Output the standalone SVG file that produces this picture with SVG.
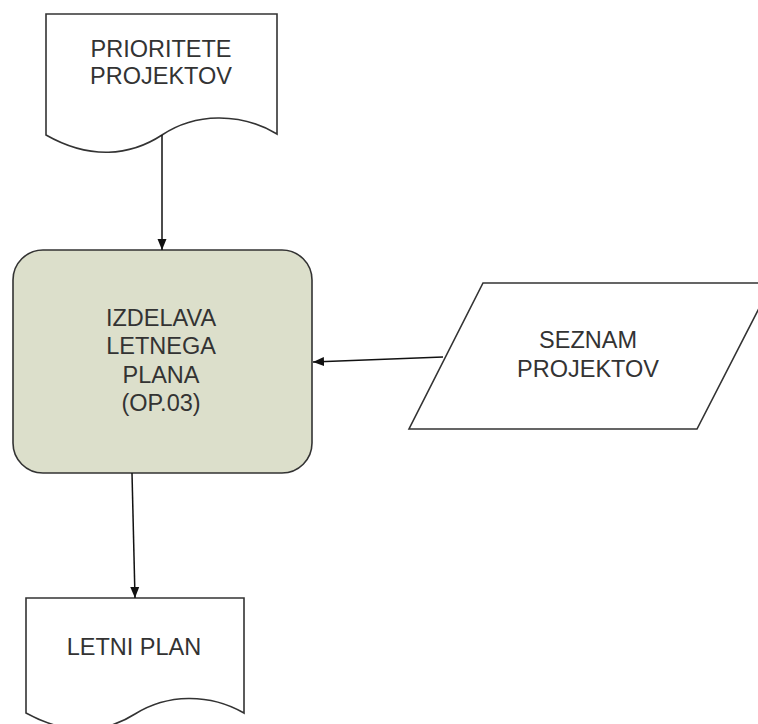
<svg xmlns="http://www.w3.org/2000/svg" width="758" height="724" viewBox="0 0 758 724">
  <defs>
    <marker id="arrow" markerWidth="12" markerHeight="12" refX="11" refY="6" orient="auto" markerUnits="userSpaceOnUse">
      <path d="M0,1.5 L11,6 L0,10.5 Z" fill="#111"/>
    </marker>
    <style>
      .shape { stroke: #333; stroke-width: 1.6; fill: #fff; }
      .proc { fill: #dcdfcb; }
      .lbl { font-family: "Liberation Sans", Arial, sans-serif; font-size: 23.5px; fill: #333; text-anchor: middle; }
      .edge { stroke: #111; stroke-width: 1.5; fill: none; marker-end: url(#arrow); }
    </style>
  </defs>
  <rect width="758" height="724" fill="#fff"/>

  <!-- input document -->
  <g id="prioritete">
    <path class="shape" d="M46,14 H277 V134 C240,112 195,113 162,135 C130,156 90,160 46,135 Z"/>
    <text class="lbl" x="161" y="57">PRIORITETE</text>
    <text class="lbl" x="161" y="84">PROJEKTOV</text>
  </g>

  <!-- process step -->
  <g id="izdelava">
    <rect class="shape proc" x="13" y="250" width="299" height="223" rx="30" ry="30"/>
    <text class="lbl" x="161" y="326">IZDELAVA</text>
    <text class="lbl" x="161" y="354">LETNEGA</text>
    <text class="lbl" x="161" y="383">PLANA</text>
    <text class="lbl" x="161" y="411">(OP.03)</text>
  </g>

  <!-- data input -->
  <g id="seznam">
    <path class="shape" d="M483,283 H772 L697,429 H409 Z"/>
    <text class="lbl" x="588" y="348">SEZNAM</text>
    <text class="lbl" x="588" y="377">PROJEKTOV</text>
  </g>

  <!-- output document -->
  <g id="letni-plan">
    <path class="shape" d="M26,598 H244 V713 C209,693 167,694 135,714 C105,733 68,736 26,713 Z"/>
    <text class="lbl" x="134" y="655">LETNI PLAN</text>
  </g>

  <g id="connectors">
    <line class="edge" x1="162" y1="135" x2="162" y2="250"/>
    <line class="edge" x1="443" y1="357" x2="313" y2="362"/>
    <line class="edge" x1="132" y1="473" x2="135" y2="598"/>
  </g>
</svg>
